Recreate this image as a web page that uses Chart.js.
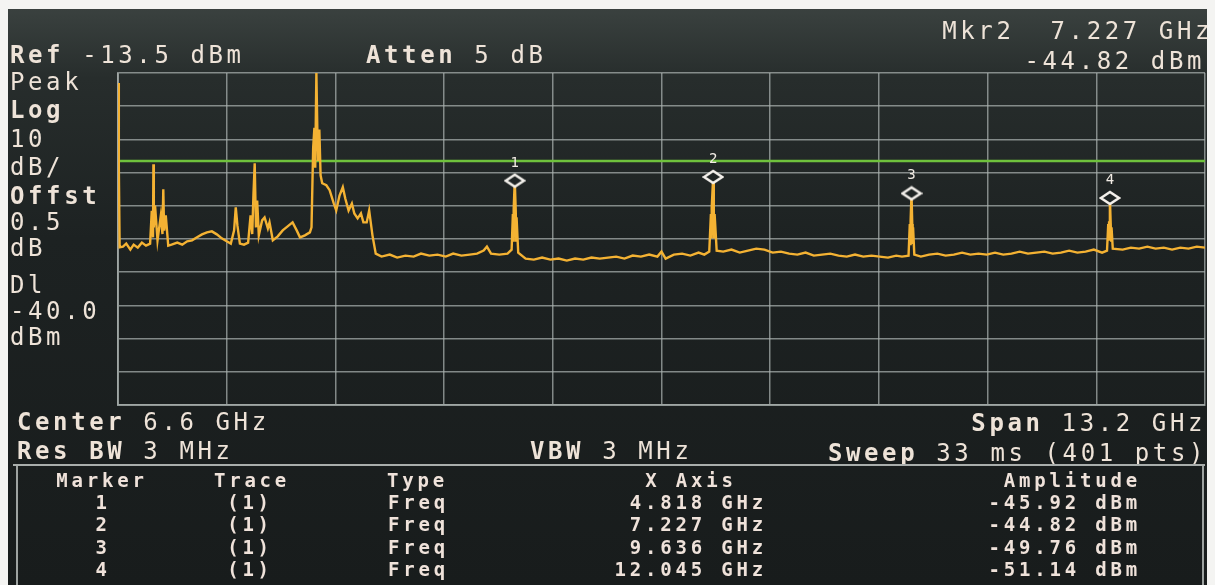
<!DOCTYPE html>
<html>
<head>
<meta charset="utf-8">
<title>Spectrum analyzer trace</title>
<script src="https://cdn.jsdelivr.net/npm/chart.js@4.4.1/dist/chart.umd.min.js"></script>
<style>
    html, body { margin: 0; padding: 0; background: #f4f4f2; }
    #screen {
        position: relative;
        width: 1215px;
        height: 585px;
        overflow: hidden;
    }
    #panel {
        position: absolute;
        left: 8px; top: 9px; width: 1199px; height: 576px;
        background: linear-gradient(180deg, #3a413f 0%, #272d2c 12%, #1d2222 40%, #181c1c 100%);
    }
    #spectrum { position: absolute; left: 0; top: 0; }
    .lbl {
        position: absolute;
        font-family: 'DejaVu Sans Mono', monospace;
        font-size: 24px;
        line-height: 24px;
        letter-spacing: 3.6px;
        color: #eee3d8;
        white-space: pre;
    }
    .lbl b { font-weight: bold; }
    .tbl {
        position: absolute;
        font-family: 'DejaVu Sans Mono', monospace;
        font-weight: bold;
        font-size: 19px;
        line-height: 19px;
        letter-spacing: 3.8px;
        color: #efe2da;
        white-space: pre;
    }
    #sep { position: absolute; left: 13px; top: 464px; width: 1192px; height: 2px; background: #a9aeac; }
    #box { position: absolute; left: 16px; top: 466px; width: 1184px; height: 130px; border-left: 2px solid #9ea3a1; border-right: 2px solid #9ea3a1; }
</style>
</head>
<body>
<div id="screen">
    <div id="panel"></div>
    <canvas id="spectrum" width="1215" height="585"></canvas>

    <div class="lbl" style="left:10px; top:43px;"><b>Ref</b> -13.5 dBm</div>
    <div class="lbl" style="left:366px; top:43px;"><b>Atten</b> 5 dB</div>
    <div class="lbl" style="right:2px; top:19px;">Mkr2  7.227 GHz</div>
    <div class="lbl" style="right:10px; top:49px;">-44.82 dBm</div>

    <div class="lbl" style="left:10px; top:70px;">Peak</div>
    <div class="lbl" style="left:10px; top:98px;"><b>Log</b></div>
    <div class="lbl" style="left:10px; top:127px;">10</div>
    <div class="lbl" style="left:10px; top:155px;">dB/</div>
    <div class="lbl" style="left:10px; top:184px;"><b>Offst</b></div>
    <div class="lbl" style="left:10px; top:210px;">0.5</div>
    <div class="lbl" style="left:10px; top:236px;">dB</div>
    <div class="lbl" style="left:10px; top:273px;">Dl</div>
    <div class="lbl" style="left:10px; top:299px;">-40.0</div>
    <div class="lbl" style="left:10px; top:325px;">dBm</div>

    <div class="lbl" style="left:17px; top:410px;"><b>Center</b> 6.6 GHz</div>
    <div class="lbl" style="left:17px; top:439px;"><b>Res BW</b> 3 MHz</div>
    <div class="lbl" style="left:530px; top:439px;"><b>VBW</b> 3 MHz</div>
    <div class="lbl" style="right:9px; top:411px;"><b>Span</b> 13.2 GHz</div>
    <div class="lbl" style="right:8px; top:441px;"><b>Sweep</b> 33 ms (401 pts)</div>

    <div id="sep"></div>
    <div id="box"></div>
    <div id="table"></div>
</div>

<script>
// Sweep: Center 6.6 GHz, Span 13.2 GHz -> 0 .. 13.2 GHz, Ref -13.5 dBm, 10 dB/div
const xGrid = [0, 1.32, 2.64, 3.96, 5.28, 6.6, 7.92, 9.24, 10.56, 11.88, 13.2];
const yGrid = [-113.5, -103.5, -93.5, -83.5, -73.5, -63.5, -53.5, -43.5, -33.5, -23.5, -13.5];

// trace 1, GHz / dBm
const traceFreq = [
    0.00, 0.01, 0.02, 0.06, 0.10, 0.15, 0.19, 0.24, 0.29, 0.34,
    0.39, 0.41, 0.425, 0.43, 0.435, 0.45, 0.48, 0.52, 0.54, 0.55,
    0.56, 0.58, 0.61, 0.65, 0.72, 0.78, 0.84, 0.90, 0.96, 1.02,
    1.08, 1.14, 1.20, 1.26, 1.32, 1.37, 1.41, 1.43, 1.45, 1.48,
    1.53, 1.58, 1.61, 1.63, 1.645, 1.66, 1.675, 1.69, 1.71, 1.75,
    1.78, 1.82, 1.84, 1.88, 1.94, 2.00, 2.06, 2.12, 2.17, 2.21,
    2.27, 2.33, 2.35, 2.37, 2.385, 2.395, 2.409, 2.42, 2.43, 2.445,
    2.46, 2.48, 2.53, 2.57, 2.62, 2.65, 2.69, 2.73, 2.76, 2.80,
    2.84, 2.87, 2.91, 2.95, 2.98, 3.02, 3.05, 3.09, 3.13, 3.20,
    3.30, 3.39, 3.49, 3.59, 3.68, 3.78, 3.88, 3.98, 4.07, 4.17,
    4.27, 4.36, 4.44, 4.48, 4.53, 4.63, 4.73, 4.78, 4.795, 4.80,
    4.805, 4.818, 4.83, 4.835, 4.84, 4.86, 4.95, 5.05, 5.15, 5.25,
    5.35, 5.45, 5.55, 5.65, 5.75, 5.85, 5.95, 6.05, 6.15, 6.25,
    6.35, 6.45, 6.55, 6.60, 6.65, 6.75, 6.85, 6.95, 7.05, 7.12,
    7.18, 7.20, 7.205, 7.21, 7.227, 7.235, 7.24, 7.245, 7.27, 7.35,
    7.45, 7.55, 7.65, 7.75, 7.85, 7.95, 8.05, 8.15, 8.25, 8.35,
    8.45, 8.55, 8.65, 8.75, 8.85, 8.95, 9.05, 9.15, 9.25, 9.35,
    9.45, 9.52, 9.60, 9.615, 9.62, 9.625, 9.636, 9.645, 9.65, 9.655,
    9.67, 9.75, 9.85, 9.95, 10.05, 10.15, 10.25, 10.35, 10.45, 10.55,
    10.65, 10.75, 10.85, 10.95, 11.05, 11.15, 11.25, 11.35, 11.45, 11.55,
    11.65, 11.75, 11.85, 11.95, 12.01, 12.025, 12.03, 12.035, 12.045, 12.055,
    12.06, 12.065, 12.08, 12.20, 12.30, 12.40, 12.50, 12.60, 12.70, 12.80,
    12.90, 13.00, 13.10, 13.20
];
const traceDbm = [
    -16.5, -42.0, -66.0, -65.8, -64.9, -66.7, -65.2, -66.1, -64.6, -65.5,
    -64.9, -55.0, -63.0, -41.0, -60.0, -53.4, -63.9, -56.4, -62.0, -48.5,
    -61.0, -56.4, -65.5, -65.2, -64.6, -65.2, -64.2, -63.9, -63.0, -62.1,
    -61.5, -61.2, -62.1, -63.3, -64.2, -64.9, -60.9, -54.0, -59.4, -64.9,
    -65.2, -64.6, -56.4, -62.0, -50.0, -40.7, -60.0, -51.9, -62.4, -57.9,
    -57.0, -60.3, -58.5, -63.9, -62.7, -60.9, -59.7, -58.5, -60.9, -63.0,
    -62.4, -61.5, -60.0, -36.0, -30.0, -42.0, -13.5, -29.8, -40.0, -30.5,
    -44.3, -46.7, -47.3, -48.8, -52.8, -54.9, -50.4, -47.9, -51.3, -54.9,
    -52.8, -55.8, -57.3, -55.8, -58.5, -58.5, -54.9, -62.4, -67.9, -68.8,
    -68.2, -69.1, -68.5, -68.8, -67.9, -68.5, -68.2, -68.8, -67.9, -68.5,
    -68.2, -67.9, -67.0, -65.8, -67.9, -68.2, -67.9, -66.7, -56.0, -64.0,
    -54.5, -45.92, -55.0, -64.0, -57.0, -67.6, -69.4, -69.7, -69.1, -69.7,
    -69.4, -70.0, -69.4, -69.7, -69.1, -69.4, -69.1, -68.8, -69.4, -68.5,
    -68.8, -68.2, -68.8, -67.3, -69.4, -68.2, -67.9, -68.5, -67.6, -68.2,
    -67.3, -56.0, -63.0, -54.0, -44.82, -55.0, -63.0, -56.0, -67.0, -67.3,
    -66.7, -67.6, -67.0, -66.4, -66.7, -67.6, -67.3, -67.9, -68.2, -67.6,
    -68.5, -68.2, -67.9, -68.5, -68.8, -68.2, -68.8, -68.5, -68.8, -69.1,
    -68.5, -68.8, -68.5, -59.0, -65.0, -58.0, -49.76, -59.0, -65.0, -60.0,
    -68.2, -68.8, -68.2, -67.9, -68.5, -68.2, -67.6, -68.2, -67.9, -68.2,
    -67.6, -68.2, -67.9, -67.3, -67.9, -67.6, -67.3, -67.9, -67.6, -67.0,
    -67.6, -67.3, -66.7, -67.6, -67.0, -59.0, -64.0, -58.5, -51.14, -59.0,
    -64.0, -60.0, -66.4, -66.7, -66.1, -66.4, -65.8, -66.4, -66.1, -66.7,
    -66.1, -66.4, -65.8, -66.1
];

// display line
const displayLine = -40.0;

// markers
const markerLabels = ['1', '2', '3', '4'];
const markerFreq = [4.818, 7.227, 9.636, 12.045];
const markerAmp = [-45.92, -44.82, -49.76, -51.14];

const gridColor = 'rgba(170, 178, 176, 0.72)';

// marker table below the graticule
const table = document.getElementById('table');
function addCell(text, top, left, align) {
    const el = document.createElement('div');
    el.className = 'tbl';
    el.textContent = text;
    el.style.top = top + 'px';
    if (align === 'right') {
        el.style.right = (1215 - left - 4) + 'px';
    } else if (align === 'center') {
        el.style.left = left + 'px';
        el.style.transform = 'translateX(-50%)';
    } else {
        el.style.left = left + 'px';
    }
    table.appendChild(el);
}
addCell('Marker', 471, 102, 'center');
addCell('Trace', 471, 252, 'center');
addCell('Type', 471, 387, 'left');
addCell('X Axis', 471, 691, 'center');
addCell('Amplitude', 471, 1137, 'right');
markerLabels.forEach((m, i) => {
    const top = 493 + i * 22.3;
    addCell(m, top, 103, 'center');
    addCell('(1)', top, 250, 'center');
    addCell('Freq', top, 388, 'left');
    addCell(markerFreq[i].toFixed(3) + ' GHz', top, 763, 'right');
    addCell(markerAmp[i].toFixed(2) + ' dBm', top, 1137, 'right');
});

// flat diamond used for the marker symbol
const diamond = document.createElement('canvas');
diamond.width = 22;
diamond.height = 16;
(function() {
    const d = diamond.getContext('2d');
    d.beginPath();
    d.moveTo(2, 8);
    d.lineTo(11, 2);
    d.lineTo(20, 8);
    d.lineTo(11, 14);
    d.closePath();
    d.fillStyle = '#1f2525';
    d.fill();
    d.lineWidth = 2.5;
    d.strokeStyle = '#f4f1ec';
    d.stroke();
})();

// numbers above the marker diamonds
const markerNumbers = {
    id: 'markerNumbers',
    afterDatasetsDraw(chart) {
        const meta = chart.getDatasetMeta(0);
        const ctx = chart.ctx;
        ctx.save();
        ctx.font = '14px "DejaVu Sans Mono"';
        ctx.fillStyle = '#f1ebe4';
        ctx.textAlign = 'center';
        meta.data.forEach((pt, i) => {
            ctx.fillText(markerLabels[i], pt.x, pt.y - 14);
        });
        ctx.restore();
    }
};

const ctx = document.getElementById('spectrum');
new Chart(ctx, {
    type: 'line',
    data: {
        datasets: [{
            label: 'Markers',
            data: markerFreq.map((f, i) => ({ x: f, y: markerAmp[i] })),
            showLine: false,
            pointStyle: diamond,
            pointRadius: 8,
            clip: false,
            order: 0
        }, {
            label: 'Trace 1',
            data: traceFreq.map((f, i) => ({ x: f, y: traceDbm[i] })),
            borderColor: '#f4b233',
            borderWidth: 2.4,
            pointRadius: 0,
            tension: 0,
            order: 1
        }, {
            label: 'Display line',
            data: [{ x: xGrid[0], y: displayLine }, { x: xGrid[xGrid.length - 1], y: displayLine }],
            borderColor: '#6fc23d',
            borderWidth: 2.5,
            pointRadius: 0,
            order: 2
        }]
    },
    options: {
        responsive: false,
        animation: false,
        devicePixelRatio: 1,
        layout: {
            padding: { left: 118, right: 10, top: 73, bottom: 180 }
        },
        plugins: {
            legend: { display: false },
            tooltip: { enabled: false }
        },
        scales: {
            x: {
                type: 'linear',
                min: 0,
                max: 13.2,
                ticks: { display: false },
                grid: { color: gridColor, lineWidth: 1.5, drawTicks: false },
                border: { color: gridColor, width: 2 },
                afterBuildTicks: function(scale) {
                    scale.ticks = xGrid.map(v => ({ value: v }));
                },
                afterFit: function(scale) {
                    scale.height = 0;
                }
            },
            y: {
                type: 'linear',
                min: -113.5,
                max: -13.5,
                ticks: { display: false },
                grid: { color: gridColor, lineWidth: 1.5, drawTicks: false },
                border: { color: gridColor, width: 2 },
                afterBuildTicks: function(scale) {
                    scale.ticks = yGrid.map(v => ({ value: v }));
                },
                afterFit: function(scale) {
                    scale.width = 0;
                }
            }
        }
    },
    plugins: [markerNumbers]
});
</script>
</body>
</html>
